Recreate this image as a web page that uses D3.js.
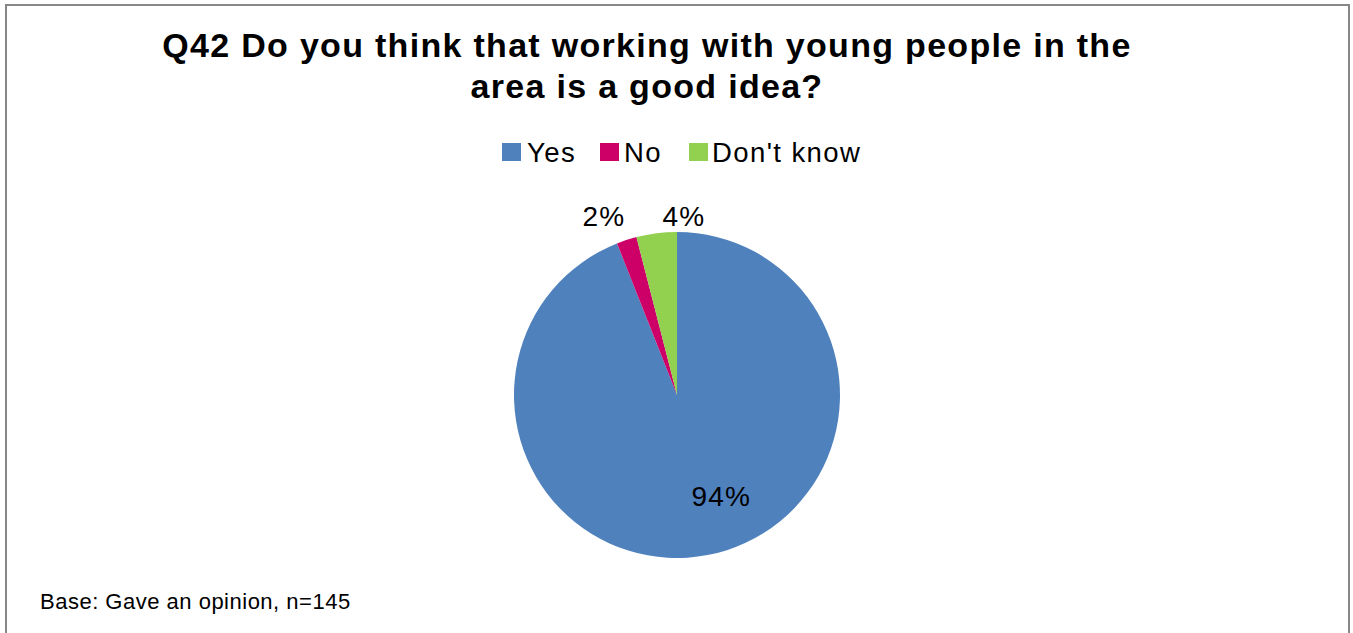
<!DOCTYPE html>
<html>
<head>
<meta charset="utf-8">
<script src="https://cdn.jsdelivr.net/npm/d3@7"></script>
<style>
  html, body { margin: 0; padding: 0; background: #fff; }
  svg { display: block; }
  text { font-family: Arial, "Liberation Sans", sans-serif; fill: #000; }
</style>
</head>
<body>
<svg id="chart" width="1353" height="633"></svg>
<script>
// Survey answers and shares (percent)
const categories = ["Yes", "No", "Don't know"];
const values = [94, 2, 4];
const colors = ["#4F81BD", "#CC0066", "#92D050"];
const titleLines = ["Q42 Do you think that working with young people in the", "area is a good idea?"];
const footnote = "Base: Gave an opinion, n=145";

const svg = d3.select("#chart");

// Chart area frame
svg.append("rect")
  .attr("x", 6).attr("y", 5)
  .attr("width", 1343).attr("height", 640)
  .attr("fill", "#fff")
  .attr("stroke", "#878787")
  .attr("stroke-width", 2);

// Title
svg.append("g").selectAll("text")
  .data(titleLines)
  .join("text")
  .attr("x", 647)
  .attr("y", (d, i) => 57 + i * 41)
  .attr("text-anchor", "middle")
  .attr("font-size", 34)
  .attr("letter-spacing", 1.3)
  .attr("font-weight", "bold")
  .text(d => d);

// Legend
const legendItems = [
  { x: 502, textX: 527 },
  { x: 600, textX: 624 },
  { x: 689, textX: 712 }
];
const legend = svg.append("g");
categories.forEach((c, i) => {
  legend.append("rect")
    .attr("x", legendItems[i].x).attr("y", 143)
    .attr("width", 19).attr("height", 18)
    .attr("fill", colors[i]);
  legend.append("text")
    .attr("x", legendItems[i].textX).attr("y", 162)
    .attr("font-size", 27.5)
    .attr("letter-spacing", 1.4)
    .text(c);
});

// Pie
const cx = 677, cy = 395, r = 163;
const color = d3.scaleOrdinal().domain(categories).range(colors);
const pie = d3.pie().sort(null).value(d => d.value);
const data = categories.map((c, i) => ({ name: c, value: values[i] }));
const arcs = pie(data);
const arc = d3.arc().innerRadius(0).outerRadius(r);

const g = svg.append("g").attr("transform", `translate(${cx},${cy})`);
g.selectAll("path")
  .data(arcs)
  .join("path")
  .attr("d", arc)
  .attr("fill", d => color(d.data.name));

// Data labels: inside for the large slice, outside end for the small ones
const innerR = 103;
const outer = d3.arc().innerRadius(r + 22).outerRadius(r + 22);
const nudges = [[25, 0], [-16, -3], [30, 4]];
g.selectAll("text.lbl")
  .data(arcs)
  .join("text")
  .attr("class", "lbl")
  .attr("transform", (d, i) => {
    let pt;
    if (i === 0) {
      const a = (d.startAngle + d.endAngle) / 2;
      pt = [innerR * Math.sin(a), -innerR * Math.cos(a)];
    } else {
      pt = outer.centroid(d);
    }
    return `translate(${pt[0] + nudges[i][0]},${pt[1] + nudges[i][1]})`;
  })
  .attr("text-anchor", "middle")
  .attr("dy", "0.36em")
  .attr("font-size", 28)
  .attr("letter-spacing", 1.2)
  .text(d => d.data.value + "%");

// Footnote
svg.append("text")
  .attr("x", 40).attr("y", 609)
  .attr("font-size", 22)
  .attr("letter-spacing", 0.5)
  .text(footnote);
</script>
</body>
</html>
